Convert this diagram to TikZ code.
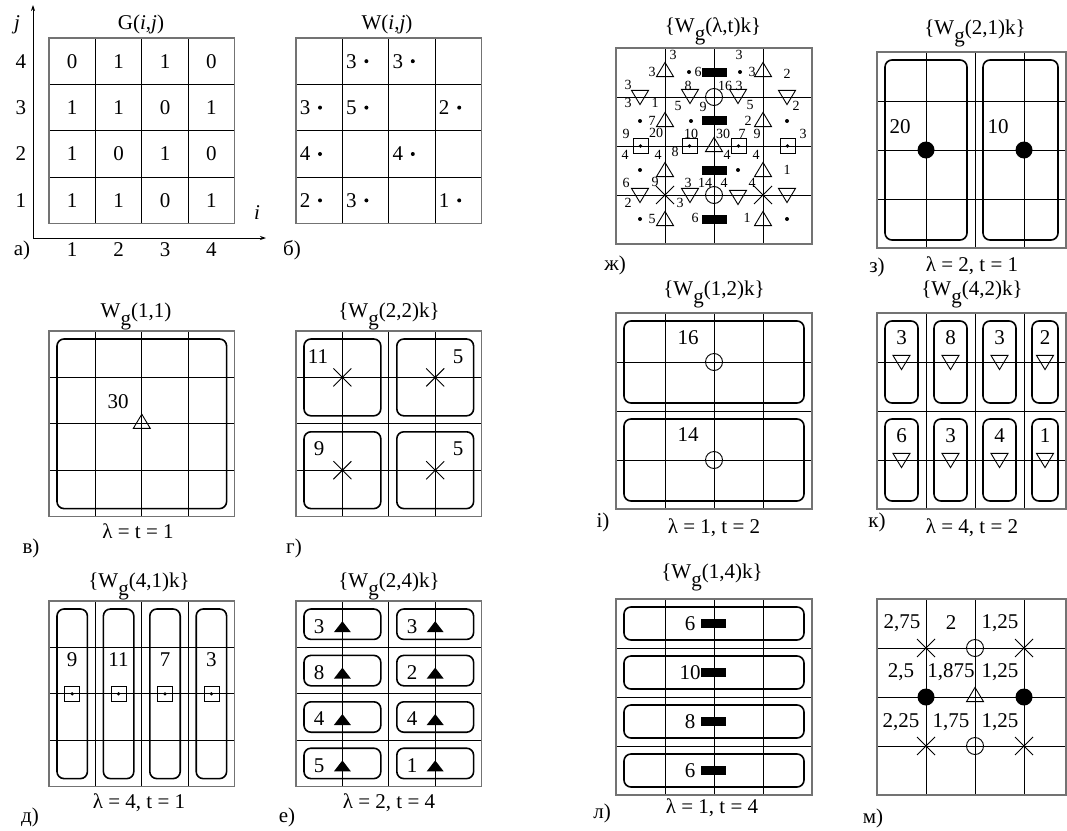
\documentclass[tikz,border=0pt]{standalone}
\usepackage{fontspec}
\setmainfont{Liberation Serif}
\usetikzlibrary{arrows.meta}

\newcommand{\Wg}{W\raisebox{-0.42em}{g}}
% 4x4 cell grid: x0, y0, cell, width
\newcommand{\cellgrid}[4]{%
  \foreach \gi in {1,2,3} {
    \draw[gridln] ({#1+\gi*#3},#2) -- ({#1+\gi*#3},{#2+4*#3});
    \draw[gridln] (#1,{#2+\gi*#3}) -- ({#1+#4},{#2+\gi*#3});
  }
  \draw[frameln] (#1,#2) rectangle ({#1+#4},{#2+4*#3});
}
% rounded group inside x0,y0 -- x1,y1
\newcommand{\grpbox}[4]{\draw[grp] ({#1+8},{#2+8}) rectangle ({#3-8},{#4-8});}

\tikzset{
  upT/.pic={\draw[line width=0.9pt] (-8.5,4.6) -- (8.5,4.6) -- (0,-9.6) -- cycle;},
  downT/.pic={\draw[line width=0.9pt] (-8.5,-4.6) -- (8.5,-4.6) -- (0,9.6) -- cycle;},
  solidT/.pic={\fill (-8.5,5) -- (8.5,5) -- (0,-6) -- cycle;},
  xM/.pic={\draw[line width=0.9pt] (-9,-9) -- (9,9) (-9,9) -- (9,-9);},
  ringM/.pic={\draw[line width=0.9pt] (0,0) circle (8.5pt);},
  blobM/.pic={\fill (0,0) circle (8.5pt);},
  dotM/.pic={\fill (0,0) circle (2pt);},
  sqM/.pic={\draw[line width=0.8pt] (-7.5,-7.5) rectangle (7.5,7.5); \fill (0,0) circle (1.8pt);},
  barM/.pic={\fill (-12.5,-4.5) rectangle (12.5,4.5);}
}

\begin{document}
\begin{tikzpicture}[x=1pt,y=-1pt,
  lab/.style={font=\fontsize{21}{23}\selectfont,inner sep=0pt},
  sml/.style={font=\fontsize{14}{16}\selectfont,inner sep=0pt},
  gridln/.style={line width=0.8pt},
  frameln/.style={black!55,line width=1.3pt},
  grp/.style={line width=1.6pt,rounded corners=7pt}]
  \useasboundingbox (0,0) rectangle (1067,830);

  % а) matrix G(i,j)
  \cellgrid{49}{38}{46.4}{185.6}
  \draw[-{Stealth[length=6pt,width=4pt]},line width=0.8pt] (33,238) -- (33,5);
  \draw[-{Stealth[length=6pt,width=4pt]},line width=0.8pt] (33,238) -- (266,238);
  \node[lab] at (17,25) {\textit{j}};
  \node[lab] at (257,213) {\textit{i}};
  \node[lab,anchor=base] at (141,29) {G(\textit{i},\textit{j})};
  \foreach \v [count=\n] in {4,3,2,1}
    \node[lab] at (21,{38+46.4*\n-23.2}) {\v};
  \foreach \n in {1,...,4}
    \node[lab] at ({49+46.4*\n-23.2},250) {\n};
  \foreach \row [count=\r] in {{0,1,1,0},{1,1,0,1},{1,0,1,0},{1,1,0,1}}
    \foreach \v [count=\c] in \row
      \node[lab] at ({49+46.4*\c-23.2},{38+46.4*\r-23.2}) {\v};
  \node[lab] at (22,250) {а)};

  % б) weights W(i,j)
  \cellgrid{296}{38}{46.4}{185.6}
  \node[lab,anchor=base] at (387,29) {W(\textit{i},\textit{j})};
  \foreach \c/\r/\v in {2/1/3,3/1/3,1/2/3,2/2/5,4/2/2,1/3/4,3/3/4,1/4/2,2/4/3,4/4/1} {
    \node[lab] at ({296+46.4*(\c-1)+9},{38+46.4*\r-23.2}) {\v};
    \pic at ({296+46.4*(\c-1)+24},{38+46.4*\r-23.2}) {dotM};
  }
  \node[lab] at (292,250) {б)};

  % в) one group
  \cellgrid{49}{331}{46.4}{185.6}
  \grpbox{49}{331}{234.6}{516.6}
  \node[lab,anchor=base] at (136,317) {\Wg(1,1)};
  \node[lab] at (118,402) {30};
  \pic at (141.8,423.8) {upT};
  \node[lab,anchor=base] at (138,538) {λ = t = 1};
  \node[lab] at (31,548) {в)};

  % г) 2x2 groups
  \cellgrid{296}{331}{46.4}{185.6}
  \grpbox{296}{331}{388.8}{423.8}
  \grpbox{388.8}{331}{481.6}{423.8}
  \grpbox{296}{423.8}{388.8}{516.6}
  \grpbox{388.8}{423.8}{481.6}{516.6}
  \node[lab,anchor=base] at (389,317) {\{\Wg(2,2)k\}};
  \foreach \x/\y in {342.4/377.4,435.2/377.4,342.4/470.2,435.2/470.2}
    \pic at (\x,\y) {xM};
  \node[lab] at (318,357) {11};
  \node[lab] at (458,357) {5};
  \node[lab] at (319,449) {9};
  \node[lab] at (458,449) {5};
  \node[lab] at (294,548) {г)};

  % д) column groups
  \cellgrid{49}{601}{46.4}{185.6}
  \node[lab,anchor=base] at (139,587) {\{\Wg(4,1)k\}};
  \foreach \v [count=\c] in {9,11,7,3} {
    \grpbox{49+46.4*(\c-1)}{601}{49+46.4*\c}{786.6}
    \node[lab] at ({49+46.4*\c-23.2},660) {\v};
    \pic at ({49+46.4*\c-23.2},693.8) {sqM};
  }
  \node[lab,anchor=base] at (139,808) {λ = 4, t = 1};
  \node[lab] at (30,817) {д)};

  % е) row groups
  \cellgrid{296}{601}{46.4}{185.6}
  \node[lab,anchor=base] at (389,587) {\{\Wg(2,4)k\}};
  \foreach \a/\b [count=\r] in {3/3,8/2,4/4,5/1} {
    \grpbox{296}{601+46.4*(\r-1)}{388.8}{601+46.4*\r}
    \grpbox{388.8}{601+46.4*(\r-1)}{481.6}{601+46.4*\r}
    \node[lab] at (319,{601+46.4*\r-21.2}) {\a};
    \node[lab] at (412,{601+46.4*\r-21.2}) {\b};
    \pic at (342.4,{601+46.4*\r-20.2}) {solidT};
    \pic at (435.2,{601+46.4*\r-20.2}) {solidT};
  }
  \node[lab,anchor=base] at (389,808) {λ = 2, t = 4};
  \node[lab] at (287,817) {е)};

  % ж) all groups together
  \cellgrid{616}{48}{49}{196}
  \node[lab,anchor=base] at (713,32) {\{\Wg(λ,t)k\}};
  \foreach \x/\y in {665/72,763/72,665/122,763/122,665/172,763/172,665/221,763/221,714/147}
    \pic at (\x,\y) {upT};
  \foreach \x/\y in {640/95,690/94,738/94,787/95,640/193,690/193,738/195,787/193}
    \pic at (\x,\y) {downT};
  \foreach \x/\y in {640.5/146,689.5/146,738.5/146,787.5/146}
    \pic at (\x,\y) {sqM};
  \foreach \y in {72,120,170,219}
    \pic at (714,\y) {barM};
  \pic at (714,97) {ringM};
  \pic at (714,195) {ringM};
  \pic at (665,195) {xM};
  \pic at (763,195) {xM};
  \foreach \x/\y in {689/72,740/72,640/121,691/121,787/121,640/170,738/170,640/219,787/219}
    \pic at (\x,\y) {dotM};
  \foreach \x/\y/\t in {673/55/3,739/55/3,652/72/3,698/72/6,752/72/3,787/74/2,
      628/85/3,628/103/3,655/103/1,688/86/8,678/106/5,703/107/9,725/86/16,739/86/3,750/105/5,796/106/2,
      652/121/7,748/121/2,
      626/134/9,656/133/20,625/155/4,658/155/4,675/152/8,691/134/10,723/134/30,727/155/4,742/134/7,757/134/9,756/155/4,803/134/3,
      787/170/1,
      626/183/6,628/203/2,655/182/9,688/183/3,705/183/14,680/203/3,724/183/4,752/183/4,
      652/219/5,695/218/6,747/218/1}
    \node[sml] at (\x,\y) {\t};
  \node[lab] at (615,265) {ж)};

  % з) two column pairs
  \cellgrid{877}{52}{49}{189}
  \grpbox{877}{52}{975}{248}
  \grpbox{975}{52}{1066}{248}
  \node[lab,anchor=base] at (975,34) {\{\Wg(2,1)k\}};
  \pic at (926,150) {blobM};
  \pic at (1024,150) {blobM};
  \node[lab] at (900,127) {20};
  \node[lab] at (998,127) {10};
  \node[lab,anchor=base] at (972,271) {λ = 2, t = 1};
  \node[lab] at (877,267) {з)};

  % і) two row pairs
  \cellgrid{616}{313}{49}{196}
  \grpbox{616}{313}{812}{411}
  \grpbox{616}{411}{812}{509}
  \node[lab,anchor=base] at (714,295) {\{\Wg(1,2)k\}};
  \pic at (714,362) {ringM};
  \pic at (714,460) {ringM};
  \node[lab] at (688,338) {16};
  \node[lab] at (688,435) {14};
  \node[lab,anchor=base] at (714,533) {λ = 1, t = 2};
  \node[lab] at (603,522) {і)};

  % к) columns split in two
  \cellgrid{877}{313}{49}{189}
  \node[lab,anchor=base] at (972,295) {\{\Wg(4,2)k\}};
  \foreach \xa/\xb/\a/\b in {877/926/3/6,926/975/8/3,975/1024/3/4,1024/1066/2/1} {
    \grpbox{\xa}{313}{\xb}{411}
    \grpbox{\xa}{411}{\xb}{509}
    \node[lab] at ({(\xa+\xb)/2},338) {\a};
    \node[lab] at ({(\xa+\xb)/2},436) {\b};
    \pic at ({(\xa+\xb)/2},360) {downT};
    \pic at ({(\xa+\xb)/2},458) {downT};
  }
  \node[lab,anchor=base] at (972,533) {λ = 4, t = 2};
  \node[lab] at (877,522) {к)};

  % л) four rows
  \cellgrid{616}{599}{49}{196}
  \node[lab,anchor=base] at (712,578) {\{\Wg(1,4)k\}};
  \foreach \v [count=\r] in {6,10,8,6} {
    \grpbox{616}{599+49*(\r-1)}{812}{599+49*\r}
    \pic at (713.5,{599+49*\r-24.5}) {barM};
    \node[lab] at (690,{599+49*\r-24.5}) {\v};
  }
  \node[lab,anchor=base] at (712,813) {λ = 1, t = 4};
  \node[lab] at (602,813) {л)};

  % м) averaged weights
  \cellgrid{877}{599}{49}{189}
  \foreach \x/\y in {926/648,1024/648,926/746,1024/746}
    \pic at (\x,\y) {xM};
  \pic at (975,648) {ringM};
  \pic at (975,746) {ringM};
  \pic at (926,697) {blobM};
  \pic at (1024,697) {blobM};
  \pic at (975,697) {upT};
  \foreach \x/\y/\t in {902/623/{2,75},951/623/2,1000/623/{1,25},
      901/672/{2,5},951/672/{1,875},1000/672/{1,25},
      901/722/{2,25},951/722/{1,75},1000/722/{1,25}}
    \node[lab] at (\x,\y) {\t};
  \node[lab] at (873,818) {м)};
\end{tikzpicture}
\end{document}
